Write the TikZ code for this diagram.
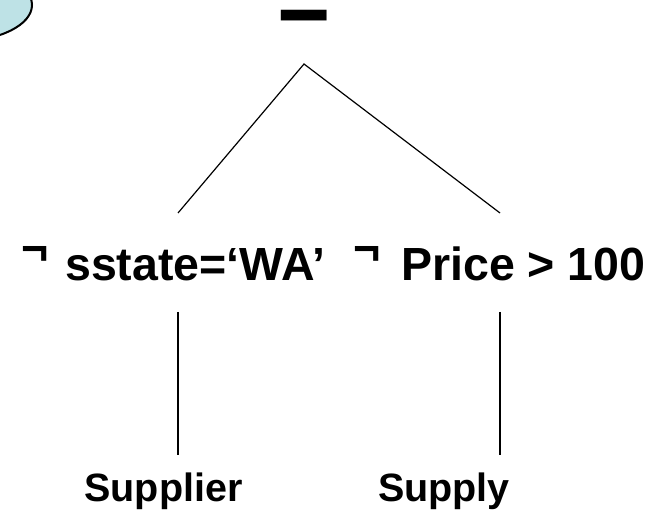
\documentclass[tikz,border=0pt]{standalone}
\usepackage{fontspec}
\setmainfont{Liberation Sans}
\definecolor{bubble}{RGB}{190,226,230}
\begin{document}
\begin{tikzpicture}[x=1pt,y=-1pt,
  selbox/.style={font=\fontsize{46.5}{52}\selectfont\bfseries, inner sep=0pt, anchor=base west},
  relbox/.style={font=\fontsize{39.5}{44}\selectfont\bfseries, inner sep=0pt, anchor=base},
  opbox/.style={font=\fontsize{77}{80}\selectfont\bfseries, inner sep=0pt, anchor=base},
  edge/.style={line width=1.2pt}]
\useasboundingbox (0,0) rectangle (666,518);
\begin{scope}
\clip (0,0) rectangle (666,518);
\draw[fill=bubble, line width=2pt] (-40,5) ellipse [x radius=72, y radius=36];
\end{scope}
\node[opbox] (minus) at (304.5,44.5) {\smash{\scalebox{1.2}[1.4]{–}}};
\node[selbox] (sel1) at (21,281) {\raisebox{16pt}{¬}\hspace{4pt} sstate=‘WA’};
\node[selbox] (sel2) at (353,281) {\raisebox{16pt}{¬}\hspace{8pt} Price > 100};
\node[relbox] (supplier) at (163.5,501) {Supplier};
\node[relbox] (supply) at (444,501) {Supply};
\coordinate (apex) at (304,64);
\coordinate (s1top) at (178,213);
\coordinate (s2top) at (500,213);
\coordinate (s1bot) at (178,312);
\coordinate (s2bot) at (500,312);
\coordinate (r1top) at (178,455);
\coordinate (r2top) at (500,455);
\draw[edge] (s1top) -- (apex) -- (s2top);
\draw[edge] (s1bot) -- (r1top);
\draw[edge] (s2bot) -- (r2top);
\end{tikzpicture}
\end{document}
